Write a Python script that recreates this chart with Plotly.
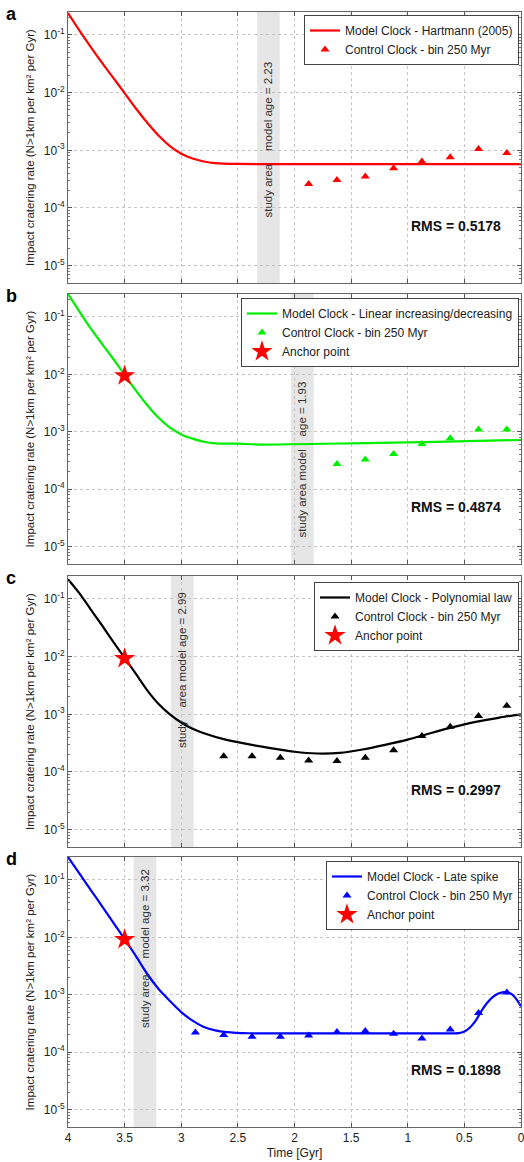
import plotly.graph_objects as go
from plotly.subplots import make_subplots

# ---------------- data ----------------
panel_letters = ["a", "b", "c", "d"]
model_names = ["Model Clock - Hartmann (2005)",
               "Model Clock - Linear increasing/decreasing",
               "Model Clock - Polynomial law",
               "Model Clock - Late spike"]
colors = ["#ff0000", "#00ee00", "#000000", "#0000ff"]
model_ages = [2.23, 1.93, 2.99, 3.32]
rms_values = [0.5178, 0.4874, 0.2997, 0.1898]

time_a = [4.0, 3.9, 3.8, 3.7, 3.6, 3.5, 3.4, 3.3, 3.2, 3.1, 3.0, 2.9, 2.8, 2.7, 2.5, 2.0, 1.0, 0.0]
rate_a = [0.24, 0.12, 0.062, 0.033, 0.018, 0.0098, 0.0053, 0.0030, 0.0018, 0.00118,
          0.00087, 0.00072, 0.00064, 0.00060, 0.00058, 0.000575, 0.000575, 0.000575]

time_b = [4.0, 3.9, 3.8, 3.7, 3.6, 3.5, 3.4, 3.3, 3.2, 3.1, 3.0, 2.9, 2.8, 2.7, 2.5, 2.3, 1.5, 0.75, 0.0]
rate_b = [0.25, 0.125, 0.063, 0.034, 0.0185, 0.0098, 0.0052, 0.0029, 0.00175, 0.00118,
          0.0009, 0.00076, 0.00067, 0.00063, 0.00062, 0.0006, 0.00063, 0.00067, 0.00072]

time_c = [4.0, 3.9, 3.8, 3.7, 3.6, 3.5, 3.4, 3.3, 3.2, 3.1, 3.0, 2.9, 2.8, 2.6, 2.4, 2.2,
          2.0, 1.8, 1.6, 1.4, 1.2, 1.0, 0.8, 0.6, 0.4, 0.2, 0.0]
rate_c = [0.22, 0.126, 0.066, 0.035, 0.018, 0.0095, 0.005, 0.0026, 0.00151, 0.001,
          0.00072, 0.00056, 0.00047, 0.00036, 0.0003, 0.000257, 0.000224, 0.000209,
          0.000214, 0.000245, 0.000295, 0.000363, 0.00047, 0.0006, 0.00074, 0.00087, 0.001]

time_d = [4.0, 3.9, 3.8, 3.7, 3.6, 3.5, 3.4, 3.3, 3.2, 3.1, 3.0, 2.9, 2.8, 2.7, 2.6, 2.4,
          2.0, 1.5, 1.0, 0.6, 0.55, 0.5, 0.45, 0.4, 0.35, 0.3, 0.25, 0.2, 0.15, 0.1, 0.05, 0.0]
rate_d = [0.25, 0.13, 0.067, 0.035, 0.018, 0.0093, 0.0047, 0.0023, 0.00126, 0.00078,
          0.0005, 0.000355, 0.000275, 0.00024, 0.000224, 0.000214, 0.000213, 0.000213,
          0.000213, 0.000213, 0.000215, 0.00023, 0.00027, 0.000355, 0.00052, 0.00072,
          0.00091, 0.00105, 0.00111, 0.00107, 0.00089, 0.00063]

ctrl_time_a = [1.875, 1.625, 1.375, 1.125, 0.875, 0.625, 0.375, 0.125]
ctrl_rate_a = [2.6e-4, 3.05e-4, 3.5e-4, 4.9e-4, 6.4e-4, 7.6e-4, 1.05e-3, 9.0e-4]
ctrl_time_b = [1.625, 1.375, 1.125, 0.875, 0.625, 0.375, 0.125]
ctrl_rate_b = [2.74e-4, 3.3e-4, 4.1e-4, 6.1e-4, 7.7e-4, 1.1e-3, 1.1e-3]
ctrl_time_c = [2.625, 2.375, 2.125, 1.875, 1.625, 1.375, 1.125, 0.875, 0.625, 0.375, 0.125]
ctrl_rate_c = [1.88e-4, 1.88e-4, 1.76e-4, 1.58e-4, 1.55e-4, 1.76e-4, 2.37e-4, 4.2e-4,
               6.1e-4, 9.3e-4, 1.4e-3]
ctrl_time_d = [2.875, 2.625, 2.375, 2.125, 1.875, 1.625, 1.375, 1.125, 0.875, 0.625, 0.375, 0.125]
ctrl_rate_d = [2.2e-4, 2.0e-4, 1.86e-4, 1.86e-4, 1.95e-4, 2.24e-4, 2.34e-4, 2.1e-4,
               1.74e-4, 2.5e-4, 4.8e-4, 1.1e-3]

anchor_time = 3.5
anchor_rates = [None, 0.0095, 0.0093, 0.0092]

NB = "\u00a0"
band_texts = ["study area" + NB * 4 + "model age = 2.23",
              "study area model" + NB * 4 + "age = 1.93",
              "study" + NB * 4 + "area model age = 2.99",
              "study area" + NB * 5 + "model age = 3.32"]
x_ticks = [4, 3.5, 3, 2.5, 2, 1.5, 1, 0.5, 0]

curves_t = [time_a, time_b, time_c, time_d]
curves_r = [rate_a, rate_b, rate_c, rate_d]
ctrl_t = [ctrl_time_a, ctrl_time_b, ctrl_time_c, ctrl_time_d]
ctrl_r = [ctrl_rate_a, ctrl_rate_b, ctrl_rate_c, ctrl_rate_d]

# ---------------- layout geometry ----------------
FONT = "Liberation Sans, Arial, Helvetica, sans-serif"
W, H = 524, 1162
ML, MR, MT, MB = 68, 3, 12, 35
plot_top_px = MT
plot_bot_px = H - MB
ph = plot_bot_px - plot_top_px
pw = W - ML - MR
panel_px = [(12, 283), (294, 564), (576, 847), (857, 1127)]
legend_px = [(519, 15), (519, 298), (519, 582), (519, 861)]
band_text_frac = [0.531, 0.389, 0.655, 0.659]


def py2paper(p):
    return (plot_bot_px - p) / ph


def px2paper(p):
    return (p - ML) / pw


fig = make_subplots(rows=4, cols=1)

for i in range(4):
    r = i + 1
    lg = "legend" if i == 0 else f"legend{r}"
    fig.add_trace(go.Scatter(
        x=curves_t[i], y=curves_r[i], mode="lines",
        line=dict(color=colors[i], width=2.2, shape="spline", smoothing=0.6),
        name=model_names[i], legend=lg), row=r, col=1)
    fig.add_trace(go.Scatter(
        x=ctrl_t[i], y=ctrl_r[i], mode="markers",
        marker=dict(symbol="triangle-up", size=8, color=colors[i]),
        name="Control Clock - bin 250 Myr", legend=lg), row=r, col=1)
    if anchor_rates[i] is not None:
        fig.add_trace(go.Scatter(
            x=[anchor_time], y=[anchor_rates[i]], mode="markers",
            marker=dict(symbol="star", size=16, color="#ff0000"),
            name="Anchor point", legend=lg), row=r, col=1)

layout_upd = {}
for i in range(4):
    r = i + 1
    top, bot = panel_px[i]
    xa = "xaxis" if i == 0 else f"xaxis{r}"
    ya = "yaxis" if i == 0 else f"yaxis{r}"
    layout_upd[ya] = dict(
        domain=[py2paper(bot), py2paper(top)],
        type="log", range=[-5.301, -0.602],
        tickvals=[1e-5, 1e-4, 1e-3, 1e-2, 1e-1],
        ticktext=["10<sup>-5</sup>", "10<sup>-4</sup>", "10<sup>-3</sup>",
                  "10<sup>-2</sup>", "10<sup>-1</sup>"],
        ticks="inside", ticklen=4, tickcolor="#555",
        showline=True, linecolor="#666", linewidth=1, mirror="allticks",
        showgrid=True, gridcolor="#c4c4c4", griddash="dot", gridwidth=1,
        zeroline=False,
        tickfont=dict(family=FONT, size=12, color="#222"),
        title=dict(text="Impact cratering rate (N>1km per km² per Gyr)",
                   font=dict(family=FONT, size=11.5, color="#222"), standoff=6),
        automargin=False,
    )
    layout_upd[xa] = dict(
        range=[4, 0], tickvals=x_ticks,
        ticktext=[str(v) for v in x_ticks],
        showticklabels=(i == 3),
        ticklabeloverflow="allow",
        ticks="inside", ticklen=4, tickcolor="#555",
        showline=True, linecolor="#666", linewidth=1, mirror="allticks",
        showgrid=True, gridcolor="#c4c4c4", griddash="dot", gridwidth=1,
        zeroline=False,
        tickfont=dict(family=FONT, size=12, color="#222"),
        automargin=False,
    )
    if i == 3:
        layout_upd[xa]["title"] = dict(text="Time [Gyr]", standoff=4,
                                       font=dict(family=FONT, size=12, color="#222"))
    rx, ry = legend_px[i]
    lgk = "legend" if i == 0 else f"legend{r}"
    layout_upd[lgk] = dict(
        x=px2paper(rx), y=py2paper(ry), xanchor="right", yanchor="top",
        xref="paper", yref="paper",
        bgcolor="white", bordercolor="#444", borderwidth=1,
        font=dict(family=FONT, size=12, color="#222"),
        tracegroupgap=0, itemwidth=30,
    )

fig.update_layout(**layout_upd)

# minor ticks on log y axes
for i in range(4):
    fig.update_yaxes(minor=dict(ticks="inside", ticklen=2, tickcolor="#777",
                                dtick="D1", showgrid=False), row=i + 1, col=1)

shapes = []
annotations = []
for i in range(4):
    r = i + 1
    xr = "x" if i == 0 else f"x{r}"
    yr = "y" if i == 0 else f"y{r}"
    shapes.append(dict(type="rect", xref=xr, yref=f"{yr} domain",
                       x0=model_ages[i] + 0.1, x1=model_ages[i] - 0.1, y0=0, y1=1,
                       fillcolor="#e6e6e6", line=dict(width=0), layer="below"))
    annotations.append(dict(xref=xr, yref=f"{yr} domain", x=model_ages[i],
                            y=band_text_frac[i], text=band_texts[i], textangle=-90,
                            showarrow=False, xanchor="center", yanchor="middle",
                            font=dict(family=FONT, size=11.5, color="#333")))
    annotations.append(dict(xref=f"{xr} domain", yref=f"{yr} domain", x=0.857,
                            y=0.21, text=f"<b>RMS = {rms_values[i]:.4f}</b>",
                            showarrow=False, xanchor="center", yanchor="middle",
                            font=dict(family=FONT, size=14, color="#111")))
    top = panel_px[i][0]
    annotations.append(dict(xref="paper", yref="paper", x=px2paper(4),
                            y=py2paper(top + 2), text=f"<b>{panel_letters[i]}</b>",
                            showarrow=False, xanchor="left", yanchor="middle",
                            font=dict(family=FONT, size=18, color="#000")))

fig.update_layout(
    width=W, height=H,
    margin=dict(l=ML, r=MR, t=MT, b=MB),
    paper_bgcolor="white", plot_bgcolor="white",
    shapes=shapes, annotations=annotations,
    showlegend=True,
)

fig.write_html("out.html",
               config={"displayModeBar": False},
               post_script="document.body.style.margin='0px';"
                           "document.body.style.overflow='hidden';")
